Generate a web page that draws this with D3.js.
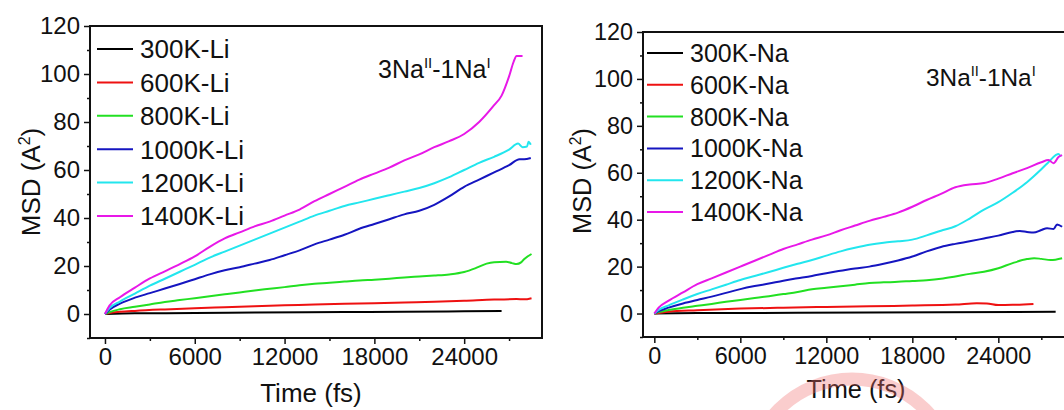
<!DOCTYPE html>
<html>
<head>
<meta charset="utf-8">
<script src="https://cdn.jsdelivr.net/npm/d3@7"></script>
<style>
  html, body { margin: 0; padding: 0; background: #fff; }
  svg { display: block; font-family: "Liberation Sans", Arial, sans-serif; }
</style>
</head>
<body>
<svg id="chart" width="1064" height="410"></svg>
<script>
// ---------- DATA ----------
const labelsLi = ["300K-Li", "600K-Li", "800K-Li", "1000K-Li", "1200K-Li", "1400K-Li"];
const labelsNa = ["300K-Na", "600K-Na", "800K-Na", "1000K-Na", "1200K-Na", "1400K-Na"];
const seriesColors = ["#000000", "#ee1111", "#22e022", "#1515c0", "#22e6ee", "#e818e8"];
const xTickValues = [0, 6000, 12000, 18000, 24000];
const yTickValues = [0, 20, 40, 60, 80, 100, 120];
const annotation = { main1: "3Na", sup1: "II", main2: "-1Na", sup2: "I" };

// Li panel: [time (fs), MSD (A^2)]
const li300 = [[0,0],[2000,0.3],[6000,0.4],[10000,0.6],[16000,0.8],[20000,0.9],[24000,1.1],[26500,1.2]];
const li600 = [[0,0],[500,0.6],[1000,0.9],[2000,1.3],[4000,1.9],[6000,2.4],[8000,2.8],[10000,3.2],[12000,3.6],[14000,4.0],[16000,4.3],[18000,4.5],[20000,4.8],[22000,5.1],[24000,5.5],[26000,6.0],[27500,6.2],[28000,6.1],[28500,6.6]];
const li800 = [[0,0],[300,0.8],[1000,2],[2000,3],[3000,4],[4000,5],[5000,5.8],[6000,6.6],[7000,7.4],[8000,8.2],[9000,9],[10000,9.8],[11000,10.5],[12000,11.2],[13000,12],[14000,12.6],[15000,13],[16000,13.5],[17000,14],[18000,14.3],[19000,14.7],[20000,15.2],[21000,15.6],[22000,16],[23000,16.5],[24000,17.5],[24800,19.2],[25500,21],[26000,21.6],[26800,21.8],[27200,21.2],[27500,20.8],[27800,21.5],[28000,22.8],[28500,25]];
const li1000 = [[0,0],[300,1.8],[1000,4.3],[2000,6.8],[3000,8.7],[4000,10.6],[5000,12.5],[6000,14.5],[7000,16.5],[8000,18.2],[9000,19.5],[10000,21],[11000,22.5],[12000,24.5],[13000,26.5],[14000,29],[15000,31],[16000,33],[17000,35.5],[18000,37.5],[19000,39.5],[20000,41.5],[21000,43],[22000,45.5],[23000,49],[24000,53],[25000,56],[26000,59],[27000,62],[27700,64.5],[28000,64.5],[28450,65]];
const li1200 = [[0,0],[300,2.5],[1000,5.2],[2000,8.5],[3000,11.8],[4000,14.7],[5000,17.6],[6000,20.5],[7000,23.5],[8000,26],[9000,28.5],[10000,31],[11000,33.5],[12000,36],[13000,38.5],[14000,41],[15000,43],[16000,45],[17000,46.5],[18000,48],[19000,49.5],[20000,51],[21000,52.5],[22000,54.5],[23000,57],[24000,60],[25000,63],[26000,65.5],[27000,68.5],[27600,71],[27900,69.5],[28200,69.8],[28300,71.8],[28450,70.5]];
const li1400 = [[0,0],[300,3.5],[1000,7],[2000,11],[3000,14.8],[4000,17.8],[5000,20.8],[6000,24],[7000,28],[8000,31.5],[9000,34],[10000,36.5],[11000,38.5],[12000,41],[13000,43.5],[14000,47],[15000,50],[16000,53],[17000,56],[18000,58.5],[19000,61],[20000,64],[21000,66.5],[22000,69.5],[23000,72],[24000,75],[25000,80],[26000,87],[26500,91],[27000,99],[27300,105],[27500,107.5],[27900,107.5]];

// Na panel
const na300 = [[0,0],[3000,0.2],[10000,0.3],[20000,0.5],[28000,0.8]];
const na600 = [[0,0],[1000,0.8],[3000,1.4],[6000,2.1],[9000,2.5],[12000,2.8],[15000,3.1],[18000,3.4],[21000,3.8],[22500,4.4],[23200,4.3],[24000,3.6],[25000,3.7],[26450,4.1]];
const na800 = [[0,0],[300,0.6],[1000,1.5],[2000,2.5],[3000,3.3],[4000,4.1],[5000,5],[6000,5.8],[7000,6.6],[8000,7.4],[9000,8.3],[10000,9.2],[11000,10.4],[12000,11],[13000,11.6],[14000,12.3],[15000,13],[16000,13.3],[17000,13.5],[18000,13.9],[19000,14.2],[20000,14.8],[21000,15.8],[22000,16.9],[23000,17.8],[24000,19.3],[25000,21.5],[26000,23.2],[26500,23.6],[27000,23.3],[27650,22.8],[28450,23.6]];
const na1000 = [[0,0],[300,1],[1000,2.5],[2000,4.3],[3000,5.8],[4000,7.2],[5000,8.8],[6000,10.4],[7000,11.7],[8000,12.8],[9000,14],[10000,15],[11000,16],[12000,17.2],[13000,18.2],[14000,19.2],[15000,20],[16000,21.2],[17000,22.6],[18000,24.3],[19000,26.5],[20000,28.4],[21000,29.7],[22000,30.8],[23000,32],[24000,33.2],[25000,34.8],[25500,35.2],[26000,34.8],[26450,34.5],[27000,35.6],[27400,36.4],[27850,36],[28100,38],[28450,37]];
const na1200 = [[0,0],[300,1.5],[1000,3.5],[2000,6],[3000,8.3],[4000,10.3],[5000,12.3],[6000,14.3],[7000,16],[8000,17.7],[9000,19.5],[10000,21.2],[11000,22.8],[12000,24.7],[13000,26.5],[14000,28],[15000,29.3],[16000,30.2],[17000,30.8],[18000,31.5],[19000,33.3],[20000,35.3],[21000,37.2],[22000,40.5],[23000,44.3],[24000,47.5],[25000,51.5],[26000,56],[27000,61.5],[27500,64.5],[28000,67.5],[28200,68],[28350,66.8]];
const na1400 = [[0,0],[300,2.5],[1000,5.5],[2000,9],[3000,12.5],[4000,15],[5000,17.5],[6000,20],[7000,22.5],[8000,25],[9000,27.5],[10000,29.5],[11000,31.5],[12000,33.3],[13000,35.5],[14000,37.5],[15000,39.5],[16000,41.2],[17000,43],[18000,45.5],[19000,48.4],[20000,51],[21000,53.8],[22000,55],[23000,55.6],[24000,57.5],[25000,59.8],[26000,62],[27000,64.5],[27500,65.4],[27850,64.1],[28200,66.7],[28450,67.5]];

const seriesLi = [li300, li600, li800, li1000, li1200, li1400];
const seriesNa = [na300, na600, na800, na1000, na1200, na1400];

// ---------- DRAWING ----------
const svg = d3.select("#chart");

function drawPanel(cfg) {
  const g = svg.append("g");
  const x = d3.scaleLinear().domain(cfg.xDomain).range([cfg.left, cfg.right]);
  const y = d3.scaleLinear().domain([-10, 120]).range([cfg.bottom, cfg.top]);
  const fs = cfg.fontScale;

  const clipId = "clip" + cfg.id;
  svg.append("clipPath").attr("id", clipId).append("rect")
    .attr("x", cfg.left).attr("y", cfg.top)
    .attr("width", cfg.right - cfg.left).attr("height", cfg.bottom - cfg.top);

  const line = d3.line().x(d => x(d[0])).y(d => y(d[1])).curve(d3.curveMonotoneX);
  const lg = g.append("g").attr("clip-path", `url(#${clipId})`);
  cfg.series.forEach((s, i) => {
    lg.append("path").datum(s).attr("d", line)
      .attr("fill", "none").attr("stroke", seriesColors[i])
      .attr("stroke-width", 2).attr("stroke-linejoin", "round");
  });

  g.append("g").attr("transform", `translate(${cfg.left},0)`)
    .call(d3.axisLeft(y).tickValues(yTickValues).tickSize(6).tickPadding(4).tickFormat(d3.format("d")));
  g.append("g").attr("transform", `translate(${cfg.left},0)`)
    .call(d3.axisLeft(y).tickValues(d3.range(-10, 121, 20)).tickSize(3).tickFormat(""));
  g.append("g").attr("transform", `translate(0,${cfg.bottom})`)
    .call(d3.axisBottom(x).tickValues(xTickValues).tickSize(6).tickPadding(4).tickFormat(d3.format("d")));
  g.append("g").attr("transform", `translate(0,${cfg.bottom})`)
    .call(d3.axisBottom(x).tickValues(d3.range(3000, 28000, 6000)).tickSize(3).tickFormat(""));

  g.selectAll(".tick line").attr("stroke", "#111").attr("stroke-width", 1.5);
  g.selectAll(".domain").remove();
  g.selectAll(".tick text").attr("font-size", 24 * fs).attr("fill", "#111")
    .attr("font-family", "Liberation Sans, Arial, sans-serif");

  g.append("rect").attr("x", cfg.left).attr("y", cfg.top)
    .attr("width", cfg.right - cfg.left).attr("height", cfg.bottom - cfg.top)
    .attr("fill", "none").attr("stroke", "#111").attr("stroke-width", 2);

  g.append("text").attr("x", cfg.xTitleX).attr("y", cfg.xTitleY)
    .attr("text-anchor", "middle").attr("font-size", 26 * fs).attr("fill", "#111")
    .text("Time (fs)");
  const yt = g.append("text")
    .attr("transform", `translate(${cfg.yTitleX},${cfg.yTitleY}) rotate(-90)`)
    .attr("text-anchor", "middle").attr("font-size", 26 * fs).attr("fill", "#111");
  yt.append("tspan").text("MSD (A");
  yt.append("tspan").attr("font-size", 16 * fs).attr("dy", -10 * fs).text("2");
  yt.append("tspan").attr("dy", 10 * fs).text(")");

  cfg.labels.forEach((lab, i) => {
    const ly = cfg.legendY + i * cfg.legendStep;
    g.append("line").attr("x1", cfg.legendX).attr("x2", cfg.legendX + 36)
      .attr("y1", ly).attr("y2", ly).attr("stroke", seriesColors[i]).attr("stroke-width", 2);
    g.append("text").attr("x", cfg.legendX + 43).attr("y", ly).attr("dy", "0.36em")
      .attr("font-size", cfg.legendFont).attr("fill", "#111").text(lab);
  });

  const at = g.append("text").attr("x", cfg.annX).attr("y", cfg.annY)
    .attr("font-size", 25 * fs).attr("fill", "#111");
  at.append("tspan").text(annotation.main1);
  at.append("tspan").attr("font-size", 15 * fs).attr("dy", -10 * fs).text(annotation.sup1);
  at.append("tspan").attr("dy", 10 * fs).text(annotation.main2);
  at.append("tspan").attr("font-size", 15 * fs).attr("dy", -10 * fs).text(annotation.sup2);
}

drawPanel({
  id: "Li", series: seriesLi, labels: labelsLi,
  left: 90, right: 542, top: 26, bottom: 338, xDomain: [-1000, 29200],
  fontScale: 1, legendX: 97, legendY: 49, legendStep: 33.4, legendFont: 26,
  xTitleX: 311, xTitleY: 402, yTitleX: 40, yTitleY: 182,
  annX: 378, annY: 78
});

drawPanel({
  id: "Na", series: seriesNa, labels: labelsNa,
  left: 643, right: 1073, top: 32, bottom: 337, xDomain: [-790, 29210],
  fontScale: 0.975, legendX: 647, legendY: 53, legendStep: 31.8, legendFont: 25,
  xTitleX: 856, xTitleY: 398, yTitleX: 591, yTitleY: 181,
  annX: 926, annY: 86
});

// faint watermark arc at bottom
svg.append("circle").attr("cx", 852).attr("cy", 482).attr("r", 103)
  .attr("fill", "none").attr("stroke", "#f07070").attr("stroke-opacity", 0.35)
  .attr("stroke-width", 13);
</script>
</body>
</html>
